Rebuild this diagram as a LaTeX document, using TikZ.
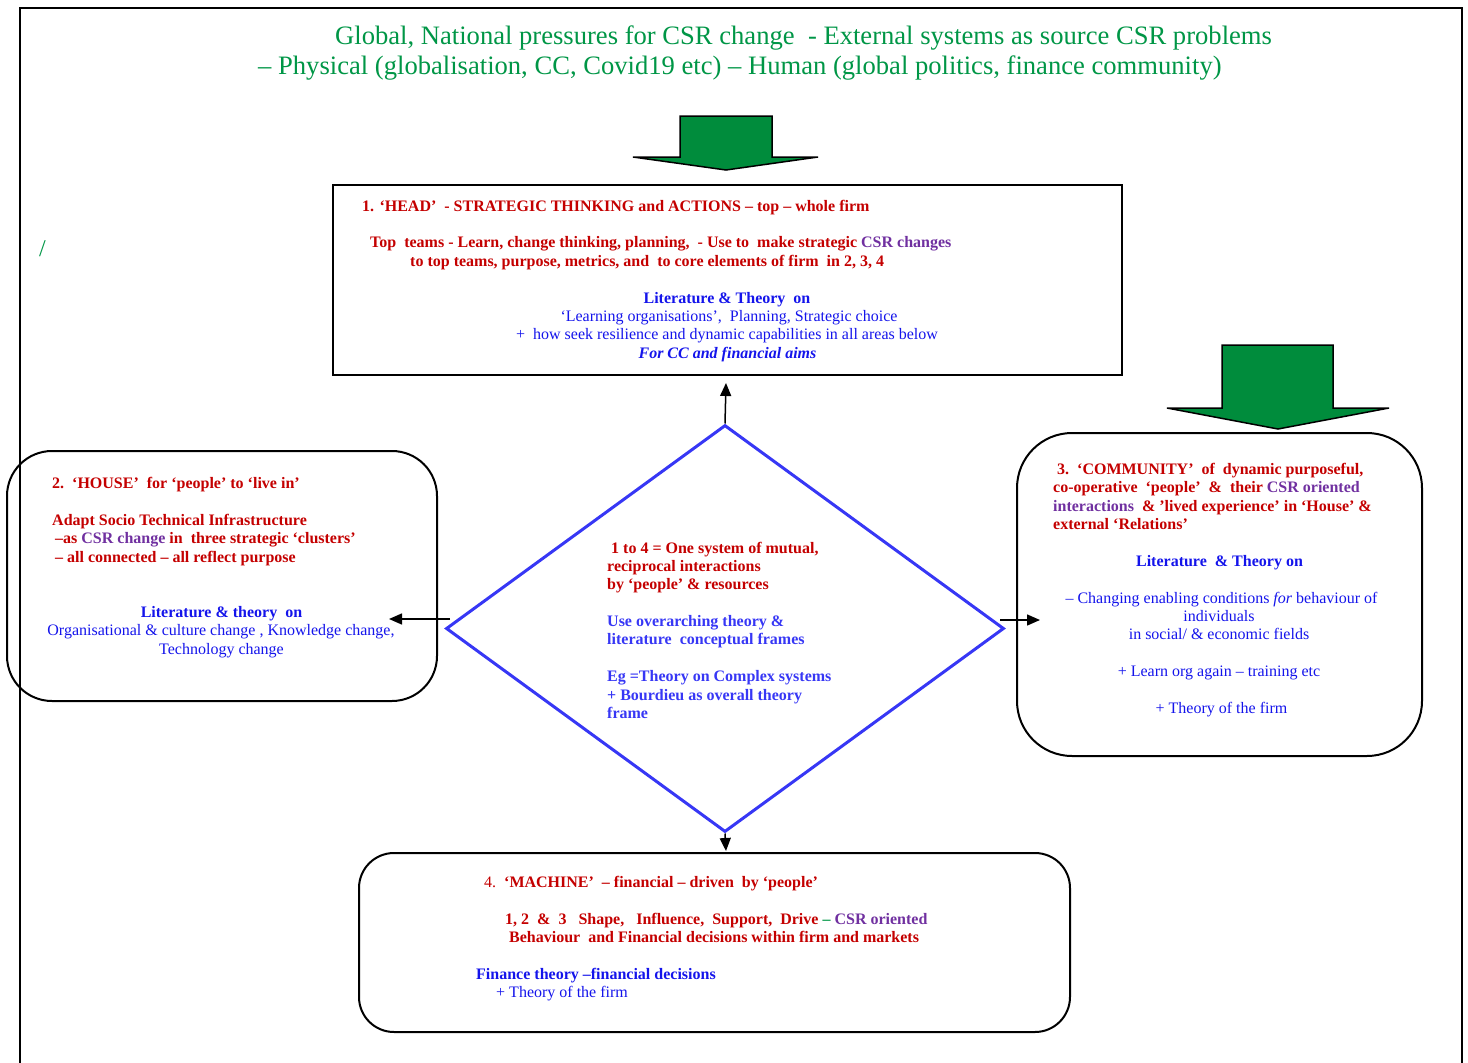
\documentclass[tikz,border=0pt]{standalone}
\usepackage{fontspec}
\setmainfont{Liberation Serif}
\usetikzlibrary{arrows.meta,shapes.geometric}
\definecolor{cred}{RGB}{196,0,0}
\definecolor{cpur}{RGB}{112,48,160}
\definecolor{cblue}{RGB}{20,20,235}
\definecolor{dblue}{RGB}{55,55,245}
\definecolor{tgreen}{RGB}{0,150,70}
\definecolor{agreen}{RGB}{0,140,60}
\newcommand{\bfs}{\fontsize{16}{18.5}\selectfont}
\begin{document}
\begin{tikzpicture}[x=1pt,y=-1pt,
 tl/.style={anchor=base west,inner sep=0pt,font=\bfs},
 tc/.style={anchor=base,inner sep=0pt,font=\bfs},
 ttl/.style={anchor=base west,inner sep=0pt,font=\fontsize{26.6}{30}\selectfont,text=tgreen},
 sqbox/.style={draw,line width=2pt,inner sep=0pt},
 rbox/.style={draw,line width=2pt,inner sep=0pt,rounded corners=#1},
 garrow/.style={fill=agreen,draw=black,line width=1.5pt,line join=miter},
 conn/.style={line width=1.5pt,-{Triangle[length=13pt,width=11pt]}},
]
\useasboundingbox (0,0) rectangle (1468,1063);
% outer frame
\draw[line width=2pt] (20,1075) -- (20,8) -- (1462,8) -- (1462,1075);
% title
\node[ttl] (t1) at (335,44) {Global, National pressures for CSR change\ \ - External systems as source CSR problems};
\node[ttl] (t2) at (258,74) {– Physical (globalisation, CC, Covid19 etc) – Human (global politics, finance community)};
% green arrows
\draw[garrow] (680,116) -- (772,116) -- (772,157) -- (818,157) -- (726,170) -- (633,157) -- (680,157) -- cycle;
\draw[garrow] (1222,345) -- (1333,345) -- (1333,408) -- (1389,408) -- (1278,429) -- (1167,408) -- (1222,408) -- cycle;
% slash
\node[ttl,font=\fontsize{24}{28}\selectfont] (slash) at (39,256) {/};
% boxes
\node[sqbox,minimum width=789,minimum height=190] (head) at (727.5,280) {};
\node[rbox=45pt,minimum width=430,minimum height=250] (house) at (222,576) {};
\node[rbox=55pt,minimum width=405,minimum height=323] (comm) at (1219.5,594.5) {};
\node[rbox=35pt,minimum width=711,minimum height=179] (mach) at (714.5,942.5) {};
\node[diamond,draw=dblue,line width=3pt,minimum width=558,minimum height=407,inner sep=0pt] (dia) at (725,628.5) {};
% connectors
\coordinate (hdtip) at (726,383);
\coordinate (hstart) at (450,619);
\coordinate (htip) at (389,619);
\coordinate (cstart) at (1000,620);
\coordinate (ctip) at (1040,620);
\coordinate (mtip) at (726,851);
\draw[conn] (dia.north) -- (hdtip);
\draw[conn] (hstart) -- (htip);
\draw[conn] (cstart) -- (ctip);
\draw[conn] (dia.south) -- (mtip);
% head text
\node[tl,text=cred,font=\bfs\bfseries] (h1) at (362,211) {1. ‘HEAD’\ \ - STRATEGIC THINKING and ACTIONS – top – whole firm};
\node[tl,text=cred,font=\bfs\bfseries] (h2) at (370,247) {Top\ \ teams - Learn, change thinking, planning,\ \ - Use to\ \ make strategic \textcolor{cpur}{CSR changes}};
\node[tl,text=cred,font=\bfs\bfseries] (h3) at (410,266) {to top teams, purpose, metrics, and\ \ to core elements of firm\ \ in 2, 3, 4};
\node[tc,text=cblue,font=\bfs\bfseries] (h4) at (727,303) {Literature \& Theory\ \ on};
\node[tc,text=cblue] (h5) at (729,321) {‘Learning organisations’,\ \ Planning, Strategic choice};
\node[tc,text=cblue] (h6) at (727,339) {+\ \ how seek resilience and dynamic capabilities in all areas below};
\node[tc,text=cblue,font=\bfs\bfseries\itshape] (h7) at (727.5,358) {For CC and financial aims};
% house text
\node[tl,text=cred,font=\bfs\bfseries] (s1) at (52,488) {2.\ \ ‘HOUSE’\ \ for ‘people’ to ‘live in’};
\node[tl,text=cred,font=\bfs\bfseries] (s2) at (52,525) {Adapt Socio Technical Infrastructure};
\node[tl,text=cred,font=\bfs\bfseries] (s3) at (55,543) {–as \textcolor{cpur}{CSR change} in\ \ three strategic ‘clusters’};
\node[tl,text=cred,font=\bfs\bfseries] (s4) at (55,562) {– all connected – all reflect purpose};
\node[tc,text=cblue,font=\bfs\bfseries] (s5) at (221.5,617) {Literature \& theory\ \ on};
\node[tc,text=cblue] (s6) at (221,635) {Organisational \& culture change , Knowledge change,};
\node[tc,text=cblue] (s7) at (221.5,654) {Technology change};
% community text
\node[tl,text=cred,font=\bfs\bfseries] (c1) at (1057,474) {3.\ \ ‘COMMUNITY’\ \ of\ \ dynamic purposeful,};
\node[tl,text=cred,font=\bfs\bfseries] (c2) at (1053,492) {co-operative\ \ ‘people’\ \ \&\ \ their \textcolor{cpur}{CSR oriented}};
\node[tl,text=cred,font=\bfs\bfseries] (c3) at (1053,511) {\textcolor{cpur}{interactions}\ \ \& ’lived experience’ in ‘House’ \&};
\node[tl,text=cred,font=\bfs\bfseries] (c4) at (1053,529) {external ‘Relations’};
\node[tc,text=cblue,font=\bfs\bfseries] (c5) at (1219.5,566) {Literature\ \ \& Theory on};
\node[tc,text=cblue] (c6) at (1221.5,603) {– Changing enabling conditions \textit{for} behaviour of};
\node[tc,text=cblue] (c7) at (1219,621) {individuals};
\node[tc,text=cblue] (c8) at (1219,639) {in social/ \& economic fields};
\node[tc,text=cblue] (c9) at (1219,676) {+ Learn org again – training etc};
\node[tc,text=cblue] (c10) at (1221.5,713) {+ Theory of the firm};
% machine text
\node[tl,text=cred] (m1) at (484,887) {4.\ \ \textbf{‘MACHINE’\ \ – financial – driven\ \ by ‘people’}};
\node[tl,text=cred,font=\bfs\bfseries] (m2) at (505,924) {1, 2\ \ \&\ \ 3\ \ \ Shape,\ \ \ Influence,\ \ Support,\ \ Drive\ \textcolor{tgreen}{–}\ \textcolor{cpur}{CSR oriented}};
\node[tl,text=cred,font=\bfs\bfseries] (m3) at (509,942) {Behaviour\ \ and Financial decisions within firm and markets};
\node[tl,text=cblue,font=\bfs\bfseries] (m4) at (476,979) {Finance theory –financial decisions};
\node[tl,text=cblue] (m5) at (496,997) {+ Theory of the firm};
% diamond text
\node[tl,text=cred,font=\bfs\bfseries] (d1) at (611,553) {1 to 4 = One system of mutual,};
\node[tl,text=cred,font=\bfs\bfseries] (d2) at (607,571) {reciprocal interactions};
\node[tl,text=cred,font=\bfs\bfseries] (d3) at (607,589) {by ‘people’ \& resources};
\node[tl,text=dblue,font=\bfs\bfseries] (d4) at (607,626) {Use overarching theory \&};
\node[tl,text=dblue,font=\bfs\bfseries] (d5) at (607,644) {literature\ \ conceptual frames};
\node[tl,text=dblue,font=\bfs\bfseries] (d6) at (607,681) {Eg =Theory on Complex systems};
\node[tl,text=dblue,font=\bfs\bfseries] (d7) at (607,700) {+ Bourdieu as overall theory};
\node[tl,text=dblue,font=\bfs\bfseries] (d8) at (607,718) {frame};
\end{tikzpicture}
\end{document}
